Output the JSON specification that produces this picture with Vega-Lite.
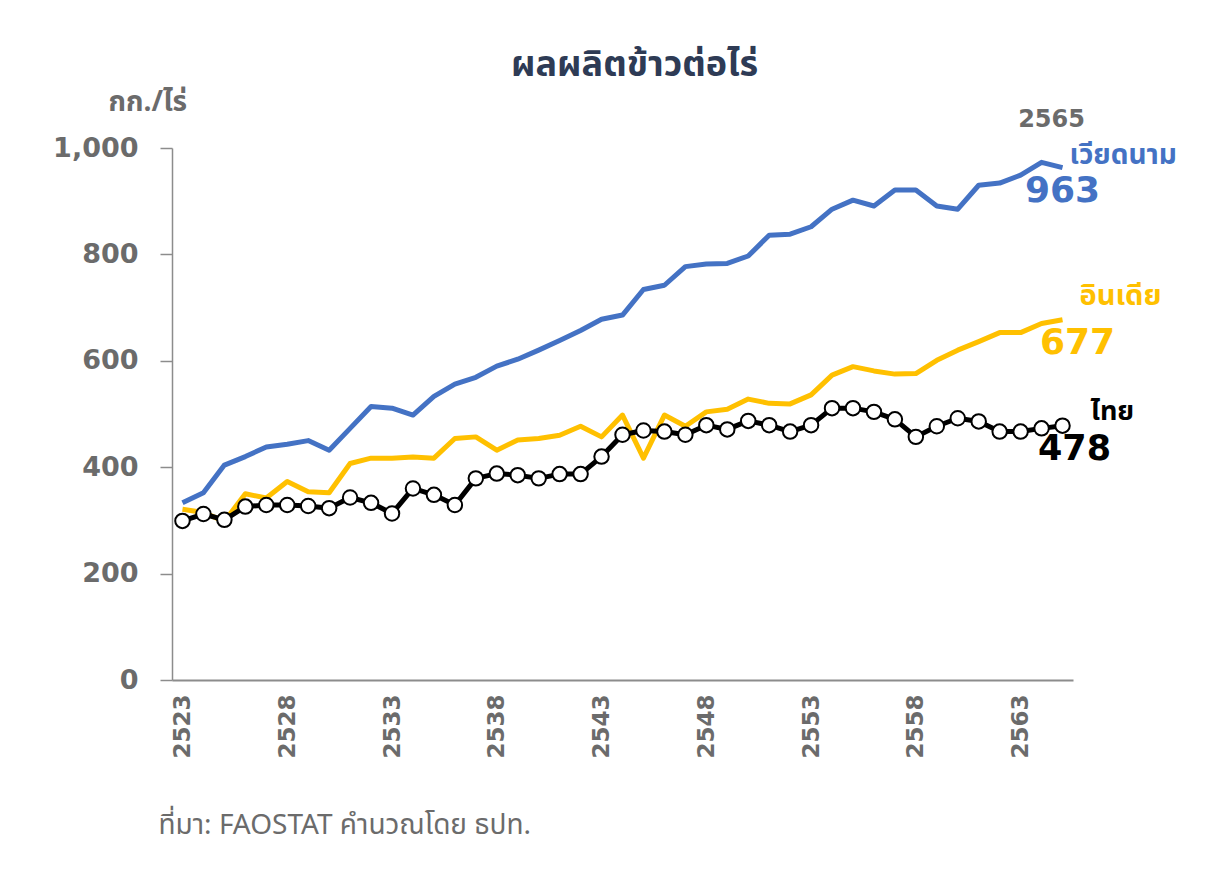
{
  "$schema": "https://vega.github.io/schema/vega-lite/v6.json",
  "width": 901,
  "height": 532,
  "autosize": {"type": "none"},
  "padding": {"left": 172, "top": 148, "right": 152, "bottom": 192},
  "background": "white",
  "config": {"view": {"stroke": null}, "font": "Noto Sans Thai, Noto Sans"},
  "title": {"text": "ผลผลิตข้าวต่อไร่", "fontSize": 36, "fontWeight": "bold", "color": "#2E3B55", "anchor": "middle", "dx": 12, "offset": 4, "font": "Noto Sans Thai, Noto Sans"},
  "datasets": {
    "yield": [
      {"year": 2523, "country": "เวียดนาม", "value": 333}, {"year": 2524, "country": "เวียดนาม", "value": 352}, {"year": 2525, "country": "เวียดนาม", "value": 404}, {"year": 2526, "country": "เวียดนาม", "value": 420}, {"year": 2527, "country": "เวียดนาม", "value": 438}, {"year": 2528, "country": "เวียดนาม", "value": 443}, {"year": 2529, "country": "เวียดนาม", "value": 450}, {"year": 2530, "country": "เวียดนาม", "value": 432}, {"year": 2531, "country": "เวียดนาม", "value": 473}, {"year": 2532, "country": "เวียดนาม", "value": 514}, {"year": 2533, "country": "เวียดนาม", "value": 511}, {"year": 2534, "country": "เวียดนาม", "value": 498}, {"year": 2535, "country": "เวียดนาม", "value": 533}, {"year": 2536, "country": "เวียดนาม", "value": 556}, {"year": 2537, "country": "เวียดนาม", "value": 569}, {"year": 2538, "country": "เวียดนาม", "value": 590}, {"year": 2539, "country": "เวียดนาม", "value": 603}, {"year": 2540, "country": "เวียดนาม", "value": 620}, {"year": 2541, "country": "เวียดนาม", "value": 638}, {"year": 2542, "country": "เวียดนาม", "value": 657}, {"year": 2543, "country": "เวียดนาม", "value": 678}, {"year": 2544, "country": "เวียดนาม", "value": 686}, {"year": 2545, "country": "เวียดนาม", "value": 734}, {"year": 2546, "country": "เวียดนาม", "value": 742}, {"year": 2547, "country": "เวียดนาม", "value": 777}, {"year": 2548, "country": "เวียดนาม", "value": 782}, {"year": 2549, "country": "เวียดนาม", "value": 783}, {"year": 2550, "country": "เวียดนาม", "value": 797}, {"year": 2551, "country": "เวียดนาม", "value": 836}, {"year": 2552, "country": "เวียดนาม", "value": 838}, {"year": 2553, "country": "เวียดนาม", "value": 852}, {"year": 2554, "country": "เวียดนาม", "value": 885}, {"year": 2555, "country": "เวียดนาม", "value": 902}, {"year": 2556, "country": "เวียดนาม", "value": 891}, {"year": 2557, "country": "เวียดนาม", "value": 921}, {"year": 2558, "country": "เวียดนาม", "value": 921}, {"year": 2559, "country": "เวียดนาม", "value": 891}, {"year": 2560, "country": "เวียดนาม", "value": 885}, {"year": 2561, "country": "เวียดนาม", "value": 930}, {"year": 2562, "country": "เวียดนาม", "value": 934}, {"year": 2563, "country": "เวียดนาม", "value": 949}, {"year": 2564, "country": "เวียดนาม", "value": 973}, {"year": 2565, "country": "เวียดนาม", "value": 963},
      {"year": 2523, "country": "อินเดีย", "value": 321}, {"year": 2524, "country": "อินเดีย", "value": 315}, {"year": 2525, "country": "อินเดีย", "value": 298}, {"year": 2526, "country": "อินเดีย", "value": 350}, {"year": 2527, "country": "อินเดีย", "value": 342}, {"year": 2528, "country": "อินเดีย", "value": 373}, {"year": 2529, "country": "อินเดีย", "value": 354}, {"year": 2530, "country": "อินเดีย", "value": 352}, {"year": 2531, "country": "อินเดีย", "value": 407}, {"year": 2532, "country": "อินเดีย", "value": 417}, {"year": 2533, "country": "อินเดีย", "value": 417}, {"year": 2534, "country": "อินเดีย", "value": 419}, {"year": 2535, "country": "อินเดีย", "value": 417}, {"year": 2536, "country": "อินเดีย", "value": 454}, {"year": 2537, "country": "อินเดีย", "value": 457}, {"year": 2538, "country": "อินเดีย", "value": 432}, {"year": 2539, "country": "อินเดีย", "value": 451}, {"year": 2540, "country": "อินเดีย", "value": 454}, {"year": 2541, "country": "อินเดีย", "value": 460}, {"year": 2542, "country": "อินเดีย", "value": 477}, {"year": 2543, "country": "อินเดีย", "value": 457}, {"year": 2544, "country": "อินเดีย", "value": 498}, {"year": 2545, "country": "อินเดีย", "value": 417}, {"year": 2546, "country": "อินเดีย", "value": 498}, {"year": 2547, "country": "อินเดีย", "value": 477}, {"year": 2548, "country": "อินเดีย", "value": 504}, {"year": 2549, "country": "อินเดีย", "value": 509}, {"year": 2550, "country": "อินเดีย", "value": 528}, {"year": 2551, "country": "อินเดีย", "value": 520}, {"year": 2552, "country": "อินเดีย", "value": 519}, {"year": 2553, "country": "อินเดีย", "value": 536}, {"year": 2554, "country": "อินเดีย", "value": 573}, {"year": 2555, "country": "อินเดีย", "value": 589}, {"year": 2556, "country": "อินเดีย", "value": 581}, {"year": 2557, "country": "อินเดีย", "value": 575}, {"year": 2558, "country": "อินเดีย", "value": 576}, {"year": 2559, "country": "อินเดีย", "value": 601}, {"year": 2560, "country": "อินเดีย", "value": 620}, {"year": 2561, "country": "อินเดีย", "value": 636}, {"year": 2562, "country": "อินเดีย", "value": 653}, {"year": 2563, "country": "อินเดีย", "value": 653}, {"year": 2564, "country": "อินเดีย", "value": 670}, {"year": 2565, "country": "อินเดีย", "value": 677},
      {"year": 2523, "country": "ไทย", "value": 299}, {"year": 2524, "country": "ไทย", "value": 312}, {"year": 2525, "country": "ไทย", "value": 301}, {"year": 2526, "country": "ไทย", "value": 326}, {"year": 2527, "country": "ไทย", "value": 329}, {"year": 2528, "country": "ไทย", "value": 329}, {"year": 2529, "country": "ไทย", "value": 327}, {"year": 2530, "country": "ไทย", "value": 323}, {"year": 2531, "country": "ไทย", "value": 343}, {"year": 2532, "country": "ไทย", "value": 333}, {"year": 2533, "country": "ไทย", "value": 313}, {"year": 2534, "country": "ไทย", "value": 360}, {"year": 2535, "country": "ไทย", "value": 348}, {"year": 2536, "country": "ไทย", "value": 329}, {"year": 2537, "country": "ไทย", "value": 379}, {"year": 2538, "country": "ไทย", "value": 388}, {"year": 2539, "country": "ไทย", "value": 385}, {"year": 2540, "country": "ไทย", "value": 379}, {"year": 2541, "country": "ไทย", "value": 387}, {"year": 2542, "country": "ไทย", "value": 387}, {"year": 2543, "country": "ไทย", "value": 420}, {"year": 2544, "country": "ไทย", "value": 461}, {"year": 2545, "country": "ไทย", "value": 469}, {"year": 2546, "country": "ไทย", "value": 467}, {"year": 2547, "country": "ไทย", "value": 461}, {"year": 2548, "country": "ไทย", "value": 479}, {"year": 2549, "country": "ไทย", "value": 471}, {"year": 2550, "country": "ไทย", "value": 487}, {"year": 2551, "country": "ไทย", "value": 479}, {"year": 2552, "country": "ไทย", "value": 467}, {"year": 2553, "country": "ไทย", "value": 479}, {"year": 2554, "country": "ไทย", "value": 511}, {"year": 2555, "country": "ไทย", "value": 511}, {"year": 2556, "country": "ไทย", "value": 504}, {"year": 2557, "country": "ไทย", "value": 490}, {"year": 2558, "country": "ไทย", "value": 457}, {"year": 2559, "country": "ไทย", "value": 477}, {"year": 2560, "country": "ไทย", "value": 492}, {"year": 2561, "country": "ไทย", "value": 486}, {"year": 2562, "country": "ไทย", "value": 467}, {"year": 2563, "country": "ไทย", "value": 467}, {"year": 2564, "country": "ไทย", "value": 473}, {"year": 2565, "country": "ไทย", "value": 478}
    ],
    "labels": [
      {"year": 2565, "value": 963, "country": "เวียดนาม", "name": "เวียดนาม", "num": "963"},
      {"year": 2565, "value": 677, "country": "อินเดีย", "name": "อินเดีย", "num": "677"},
      {"year": 2565, "value": 478, "country": "ไทย", "name": "ไทย", "num": "478"}
    ]
  },
  "encoding": {
    "x": {
      "field": "year", "type": "ordinal",
      "scale": {"type": "point", "padding": 0.5},
      "axis": {
        "values": [2523, 2528, 2533, 2538, 2543, 2548, 2553, 2558, 2563],
        "labelAngle": 270, "labelAlign": "right", "labelBaseline": "middle",
        "labelFontSize": 23, "labelFontWeight": "bold", "labelColor": "#6b6b6b", "labelPadding": 14,
        "labelFont": "DejaVu Sans",
        "ticks": false, "domainColor": "#8c8c8c", "domainWidth": 2, "grid": false,
        "title": "ที่มา: FAOSTAT คำนวณโดย ธปท.", "titleFontSize": 28, "titleFontWeight": "normal", "titleColor": "#6b6b6b",
        "titleAnchor": "start", "titleAlign": "left", "titleX": -14, "titleY": 145, "titleBaseline": "middle"
      }
    },
    "y": {
      "field": "value", "type": "quantitative",
      "scale": {"domain": [0, 1000], "nice": false},
      "axis": {
        "values": [0, 200, 400, 600, 800, 1000], "format": ",d",
        "labelFontSize": 27, "labelFontWeight": "bold", "labelColor": "#6b6b6b", "labelPadding": 22, "labelFont": "DejaVu Sans",
        "tickSize": 12, "tickColor": "#8c8c8c", "tickWidth": 1.5, "domainColor": "#8c8c8c", "domainWidth": 1.5, "grid": false,
        "title": "กก./ไร่", "titleAngle": 0, "titleAlign": "left", "titleBaseline": "middle", "titleX": -64, "titleY": -46,
        "titleFontSize": 28, "titleFontWeight": "bold", "titleColor": "#6b6b6b"
      }
    },
    "color": {
      "field": "country", "type": "nominal",
      "scale": {"domain": ["เวียดนาม", "อินเดีย", "ไทย"], "range": ["#4472C4", "#FFC000", "#000000"]},
      "legend": null
    }
  },
  "layer": [
    {"data": {"name": "yield"}, "mark": {"type": "line", "strokeWidth": 5, "strokeJoin": "round"}},
    {"data": {"name": "yield"}, "transform": [{"filter": "datum.country === 'ไทย'"}],
     "mark": {"type": "point", "shape": "circle", "filled": true, "fill": "white", "stroke": "black", "strokeWidth": 2, "size": 210, "opacity": 1}},
    {"data": {"name": "labels"}, "transform": [{"filter": "datum.country === 'เวียดนาม'"}],
     "mark": {"type": "text", "text": "2565", "fontSize": 24, "fontWeight": "bold", "align": "center", "baseline": "middle", "dx": -11, "dy": -48, "font": "DejaVu Sans"}, "encoding": {"color": {"value": "#6b6b6b"}}},
    {"data": {"name": "labels"}, "transform": [{"filter": "datum.country === 'เวียดนาม'"}],
     "mark": {"type": "text", "fontSize": 28, "fontWeight": "bold", "align": "left", "baseline": "middle", "dx": 7, "dy": -12}, "encoding": {"text": {"field": "name"}}},
    {"data": {"name": "labels"}, "transform": [{"filter": "datum.country === 'เวียดนาม'"}],
     "mark": {"type": "text", "fontSize": 36, "fontWeight": "bold", "align": "center", "baseline": "middle", "dx": 0, "dy": 23, "font": "DejaVu Sans"}, "encoding": {"text": {"field": "num"}}},
    {"data": {"name": "labels"}, "transform": [{"filter": "datum.country === 'อินเดีย'"}],
     "mark": {"type": "text", "fontSize": 29, "fontWeight": "bold", "align": "left", "baseline": "middle", "dx": 17, "dy": -24}, "encoding": {"text": {"field": "name"}}},
    {"data": {"name": "labels"}, "transform": [{"filter": "datum.country === 'อินเดีย'"}],
     "mark": {"type": "text", "fontSize": 36, "fontWeight": "bold", "align": "center", "baseline": "middle", "dx": 15, "dy": 23, "font": "DejaVu Sans"}, "encoding": {"text": {"field": "num"}}},
    {"data": {"name": "labels"}, "transform": [{"filter": "datum.country === 'ไทย'"}],
     "mark": {"type": "text", "fontSize": 27, "fontWeight": "bold", "align": "left", "baseline": "middle", "dx": 28, "dy": -14}, "encoding": {"text": {"field": "name"}}},
    {"data": {"name": "labels"}, "transform": [{"filter": "datum.country === 'ไทย'"}],
     "mark": {"type": "text", "fontSize": 35, "fontWeight": "bold", "align": "center", "baseline": "middle", "dx": 12, "dy": 23, "font": "DejaVu Sans"}, "encoding": {"text": {"field": "num"}}}
  ]
}
